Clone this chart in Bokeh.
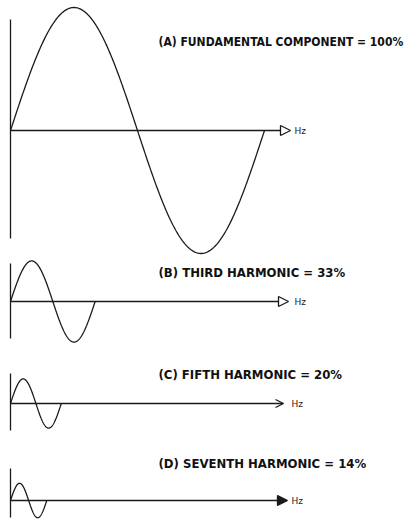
import numpy as np
from bokeh.plotting import figure
from bokeh.models import Range1d, Arrow, NormalHead, OpenHead, ColumnDataSource
from bokeh.core.properties import value
from bokeh.embed import file_html
from bokeh.resources import INLINE

# ---- data ----
harmonic_order = [1, 3, 5, 7]
amplitude_pct = [100, 33, 20, 14]
panel_labels = [
    "(A)  FUNDAMENTAL COMPONENT = 100%",
    "(B)  THIRD HARMONIC = 33%",
    "(C)  FIFTH HARMONIC = 20%",
    "(D)  SEVENTH HARMONIC = 14%",
]
axis_unit = "Hz"

# ---- layout (reference page pixels) ----
W, H = 407, 527
PX_PER_PERIOD = 254.0
PX_PER_PCT = 1.23
ORIGIN_X = 10


def tx(px):
    return (px - ORIGIN_X) / PX_PER_PERIOD


def ty(py):
    return (H - py) / PX_PER_PCT


baseline_py = [130, 301, 403, 500]
vaxis_py = [(19, 238), (263, 338), (373, 430), (468, 517)]
arrow_tip_px = [290, 288, 283, 287]
hz_px = [294, 294, 291, 291]
label_px = 158
label_py = [41, 272, 373.5, 463]
label_size = ["12px", "13px", "13px", "13px"]
head_kind = ["open", "open", "vee", "filled"]
INK = "#1a1a1a"
FONT = "DejaVu Sans Condensed, Roboto Condensed, Roboto"

p = figure(width=W, height=H, x_range=Range1d(tx(0), tx(W)),
           y_range=Range1d(ty(H), ty(0)), output_backend="svg",
           toolbar_location=None, min_border=0, x_axis_type=None,
           y_axis_type=None)
p.grid.visible = False
p.outline_line_color = None
p.background_fill_color = "white"
p.border_fill_color = "white"

for i, (n, amp) in enumerate(zip(harmonic_order, amplitude_pct)):
    base = ty(baseline_py[i])
    t = np.linspace(0, 1.0 / n, 300)
    p.line(t, base + amp * np.sin(2 * np.pi * n * t), line_color=INK, line_width=1.3)
    top, bot = vaxis_py[i]
    p.segment(x0=[0], y0=[ty(top)], x1=[0], y1=[ty(bot)], line_color=INK, line_width=1.3)
    if head_kind[i] == "vee":
        head = OpenHead(size=8, line_color=INK, line_width=1.3)
    elif head_kind[i] == "filled":
        head = NormalHead(size=10, line_color=INK, fill_color=INK, line_width=1.3)
    else:
        head = NormalHead(size=10, line_color=INK, fill_color="white", line_width=1.3)
    p.add_layout(Arrow(end=head, x_start=0, y_start=base, x_end=tx(arrow_tip_px[i]),
                       y_end=base, line_color=INK, line_width=1.3))

src = ColumnDataSource(dict(x=[tx(label_px)] * 4, y=[ty(v) for v in label_py],
                            text=panel_labels, size=label_size))
p.text(x="x", y="y", text="text", source=src, text_font=value(FONT), text_font_style="bold",
       text_font_size="size", text_align="left", text_baseline="middle", text_color="#111111")

hz_src = ColumnDataSource(dict(x=[tx(v) for v in hz_px], y=[ty(v) for v in baseline_py],
                               text=[axis_unit] * 4))
p.text(x="x", y="y", text="text", source=hz_src, text_font=value("DejaVu Sans"),
       text_font_size="9px", text_align="left", text_baseline="middle", text_color="#222222")

open("out.html", "w").write(file_html(p, INLINE))
